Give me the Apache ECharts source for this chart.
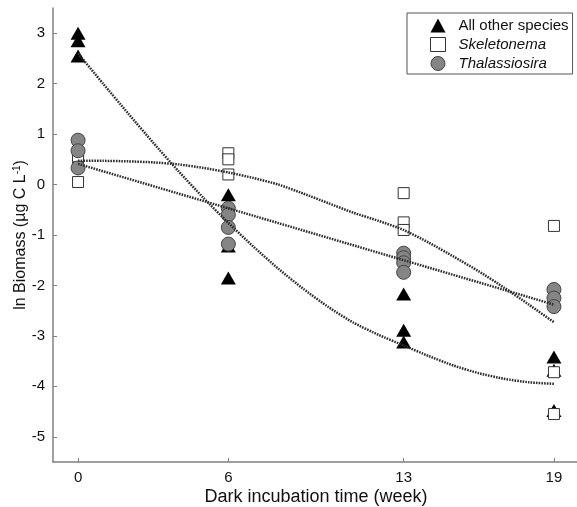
<!DOCTYPE html>
<html>
<head>
<meta charset="utf-8">
<script src="https://cdn.jsdelivr.net/npm/echarts@6/dist/echarts.min.js"></script>
<style>html,body{margin:0;padding:0;background:#fff;}#c{width:577px;height:507px;}</style>
</head>
<body>
<div id="c"></div>
<script>
// ---- data ----
const weekTicks = [0, 6, 13, 19];
const valueTicks = [-5, -4, -3, -2, -1, 0, 1, 2, 3];

const otherX = [0, 0, 0, 6, 6, 6, 13, 13, 13, 19, 19, 19];
const otherY = [3.0, 2.85, 2.55, -0.2, -1.22, -1.85, -2.17, -2.89, -3.12, -3.42, -3.68, -4.48];

const skelX = [0, 0, 0, 6, 6, 6, 13, 13, 13, 19, 19, 19];
const skelY = [0.05, 0.5, 0.56, 0.62, 0.5, 0.2, -0.17, -0.75, -0.9, -0.82, -3.72, -4.55];

const thalX = [0, 0, 0, 6, 6, 6, 6, 13, 13, 13, 13, 19, 19, 19];
const thalY = [0.88, 0.67, 0.33, -0.47, -0.6, -0.85, -1.18, -1.36, -1.45, -1.55, -1.74, -2.08, -2.25, -2.42];

// fitted curves
const fitWeeks = [0, 1, 2, 3, 4, 5, 6, 7, 8, 9, 10, 11, 12, 13, 14, 15, 16, 17, 18, 19];
const fitOther = [2.6, 2.0, 1.41, 0.83, 0.27, -0.26, -0.76, -1.23, -1.67, -2.07, -2.43, -2.74, -2.98, -3.19, -3.40, -3.59, -3.74, -3.85, -3.92, -3.95];
const fitSkel = [0.47, 0.47, 0.46, 0.44, 0.40, 0.33, 0.24, 0.13, 0.0, -0.18, -0.37, -0.56, -0.72, -0.9, -1.15, -1.43, -1.72, -2.04, -2.38, -2.73];
const fitThalX = [0, 19];
const fitThalY = [0.41, -2.38];

const names = ['All other species', 'Skeletonema', 'Thalassiosira'];

const zip = (xs, ys) => xs.map((x, i) => [x, ys[i]]);

const font = 'Liberation Sans, Arial, sans-serif';
const fitStyle = { color: '#2e2e2e', width: 2.5, type: [1.6, 1.1] };

const chart = echarts.init(document.getElementById('c'));
chart.setOption({
  animation: false,
  backgroundColor: '#fff',
  grid: { left: 53, right: -2, top: 8, bottom: 45, containLabel: false, outerBoundsMode: 'none' },
  legend: {
    orient: 'vertical',
    left: 407, top: 13,
    padding: [5, 4, 3, 23],
    itemWidth: 15, itemHeight: 14, itemGap: 4,
    borderColor: '#555', borderWidth: 1,
    textStyle: { fontFamily: font, fontSize: 15, color: '#111', padding: [0, 0, 0, 8] },
    data: [
      { name: names[0], icon: 'triangle', itemStyle: { color: '#000', borderWidth: 0 } },
      { name: names[1], icon: 'rect', itemStyle: { color: '#fff', borderColor: '#333', borderWidth: 1 }, textStyle: { fontStyle: 'italic' } },
      { name: names[2], icon: 'circle', itemStyle: { color: '#858585', borderColor: '#444', borderWidth: 1 }, textStyle: { fontStyle: 'italic' } }
    ]
  },
  xAxis: {
    type: 'value', min: -1, max: 20,
    name: 'Dark incubation time (week)', nameLocation: 'middle', nameGap: 26, nameMoveOverlap: false,
    nameTextStyle: { fontFamily: font, fontSize: 18, color: '#111' },
    axisLine: { show: true, onZero: false, lineStyle: { color: '#808080', width: 1.5 } },
    axisTick: { show: true, inside: true, length: 4, customValues: weekTicks, lineStyle: { color: '#808080' } },
    axisLabel: { customValues: weekTicks, fontFamily: font, fontSize: 15, color: '#111', margin: 8 },
    splitLine: { show: false }
  },
  yAxis: {
    type: 'value', min: -5.5, max: 3.5,
    name: 'ln Biomass (µg C L{sup|-1})', nameLocation: 'middle', nameGap: 23, nameRotate: 90, nameMoveOverlap: false,
    nameTextStyle: { fontFamily: font, fontSize: 16, color: '#111', lineHeight: 18,
      rich: { sup: { fontFamily: font, fontSize: 10, color: '#111', verticalAlign: 'top', lineHeight: 18 } } },
    axisLine: { show: true, onZero: false, lineStyle: { color: '#808080', width: 1.5 } },
    axisTick: { show: true, inside: true, length: 4, customValues: valueTicks, lineStyle: { color: '#808080' } },
    axisLabel: { customValues: valueTicks, fontFamily: font, fontSize: 15, color: '#111', margin: 8 },
    splitLine: { show: false }
  },
  series: [
    { name: names[0], type: 'scatter', symbol: 'triangle', symbolSize: [15, 13], z: 2,
      itemStyle: { color: '#000', opacity: 1 }, data: zip(otherX, otherY) },
    { name: names[1], type: 'scatter', symbol: 'rect', symbolSize: 11, z: 3,
      itemStyle: { color: '#fff', borderColor: '#333', borderWidth: 1, opacity: 1 }, data: zip(skelX, skelY) },
    { name: names[2], type: 'scatter', symbol: 'circle', symbolSize: 14, z: 4,
      itemStyle: { color: '#858585', borderColor: '#444', borderWidth: 1, opacity: 1 }, data: zip(thalX, thalY) },
    { name: 'fit other', type: 'line', showSymbol: false, smooth: 0.2, z: 5, silent: true,
      lineStyle: fitStyle, data: zip(fitWeeks, fitOther) },
    { name: 'fit skel', type: 'line', showSymbol: false, smooth: 0.2, z: 5, silent: true,
      lineStyle: fitStyle, data: zip(fitWeeks, fitSkel) },
    { name: 'fit thal', type: 'line', showSymbol: false, z: 5, silent: true,
      lineStyle: fitStyle, data: zip(fitThalX, fitThalY) }
  ]
});
</script>
</body>
</html>
